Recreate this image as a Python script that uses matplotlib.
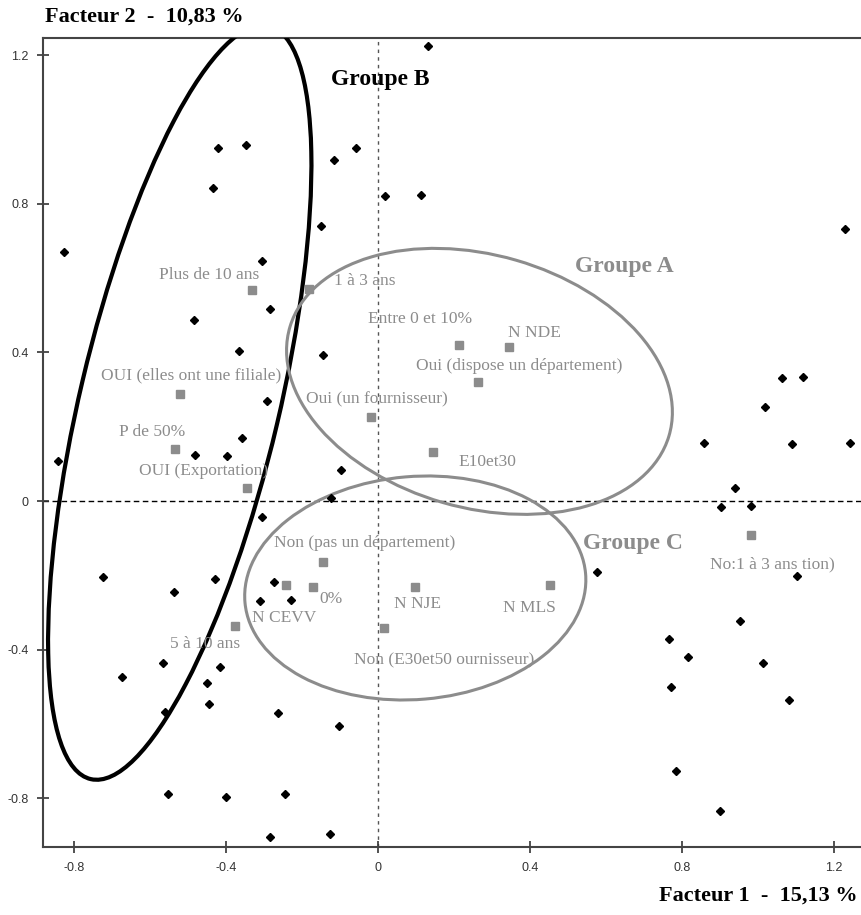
import matplotlib
matplotlib.use('Agg')
import matplotlib.pyplot as plt
from matplotlib.patches import Ellipse

# individuals (black points)
ind_x = [0.131, -0.421, -0.348, -0.435, -0.115, -0.058, 0.018, 0.113, -0.149, -0.827,
         -0.306, -0.285, -0.484, -0.366, -0.144, -0.293, -0.359, -0.482, -0.398, -0.843,
         -0.097, -0.123, -0.306, 1.228, 1.063, 1.120, 1.018, 0.859, 1.089, 1.243,
         0.940, 0.903, 0.982, 0.576, 1.102, 0.953, 0.767, 0.817, 1.013, 0.772,
         1.081, 0.785, 0.901, -0.725, -0.429, -0.537, -0.275, -0.312, -0.230, -0.565,
         -0.673, -0.416, -0.450, -0.445, -0.560, -0.264, -0.102, -0.552, -0.401, -0.246,
         -0.285, -0.126]
ind_y = [1.224, 0.951, 0.959, 0.843, 0.919, 0.951, 0.822, 0.824, 0.741, 0.670,
         0.646, 0.516, 0.486, 0.405, 0.392, 0.268, 0.170, 0.124, 0.122, 0.108,
         0.084, 0.008, -0.043, 0.732, 0.330, 0.335, 0.254, 0.157, 0.154, 0.157,
         0.035, -0.016, -0.014, -0.192, -0.203, -0.322, -0.370, -0.419, -0.435, -0.500,
         -0.535, -0.727, -0.835, -0.205, -0.211, -0.246, -0.219, -0.268, -0.265, -0.435,
         -0.473, -0.446, -0.489, -0.546, -0.568, -0.570, -0.605, -0.789, -0.797, -0.789,
         -0.903, -0.897]

# modalities (grey squares)
mod_labels = ['Plus de 10 ans', '1 à 3 ans', 'Entre 0 et 10%', 'N NDE',
              'Oui (dispose un département)', 'Oui (un fournisseur)', 'E10et30',
              'OUI (elles ont une filiale)', 'P de 50%', 'OUI (Exportation)',
              'Non (pas un département)', 'N CEVV', '0%', '5 à 10 ans', 'N NJE',
              'N MLS', 'Non (E30et50 ournisseur)', 'No:1 à 3 ans tion)']
mod_x = [-0.332, -0.183, 0.212, 0.346, 0.264, -0.018, 0.144, -0.521, -0.534, -0.346,
         -0.144, -0.241, -0.170, -0.377, 0.097, 0.453, 0.016, 0.982]
mod_y = [0.568, 0.570, 0.419, 0.414, 0.319, 0.227, 0.132, 0.289, 0.141, 0.035,
         -0.165, -0.227, -0.232, -0.335, -0.232, -0.227, -0.343, -0.092]
# label offsets in pixels (left edge / vertical centre of text)
lab_dx = [-93, 25, -91, -1, -62, -65, 26, -79, -56, -108, -49, -34, 6, -65, -21, -47, -30, -41]
lab_dy = [15, 8, 26, 14, 16, 17, -10, 18, 17, 17, 19, -33, -12, -18, -17, -23, -32, -29]

grey = '#8c8c8c'
serif = 'Liberation Serif'

fig = plt.figure(figsize=(8.62, 9.15), dpi=100)
ax = fig.add_axes([43 / 862, 1 - 847 / 915, 1 - 43 / 862, (847 - 38) / 915])

ax.axvline(0, color='#555555', lw=1, ls=(0, (2.5, 3)), zorder=1)
ax.axhline(0, color='black', lw=1, ls=(0, (4, 2.5)), zorder=1)

# group ellipses
ax.add_patch(Ellipse((-0.522, 0.265), 2.08, 0.525, angle=77, fill=False,
                     ec='black', lw=3, zorder=3))
ax.add_patch(Ellipse((0.267, 0.322), 1.04, 0.68, angle=-16.5, fill=False,
                     ec=grey, lw=2.2, zorder=3))
ax.add_patch(Ellipse((0.098, -0.234), 0.90, 0.60, angle=5, fill=False,
                     ec=grey, lw=2.2, zorder=3))

ax.plot(ind_x, ind_y, 'D', color='black', ms=4, ls='none', zorder=4)
ax.plot(mod_x, mod_y, 's', color=grey, ms=5.5, ls='none', zorder=4)

for lab, x, y, dx, dy in zip(mod_labels, mod_x, mod_y, lab_dx, lab_dy):
    ax.annotate(lab, (x, y), xytext=(dx, dy), textcoords='offset pixels',
                ha='left', va='center', fontsize=12.5, family=serif,
                color=grey, zorder=5)

ax.text(-0.125, 1.134, 'Groupe B', fontsize=17, fontweight='bold', family=serif,
        color='black', va='center')
ax.text(0.518, 0.630, 'Groupe A', fontsize=17, fontweight='bold', family=serif,
        color=grey, va='center')
ax.text(0.540, -0.115, 'Groupe C', fontsize=17, fontweight='bold', family=serif,
        color=grey, va='center')

ax.set_xlim(-0.882, 1.274)
ax.set_ylim(-0.931, 1.246)
ax.set_xticks([-0.8, -0.4, 0, 0.4, 0.8, 1.2])
ax.set_xticklabels(['-0.8', '-0.4', '0', '0.4', '0.8', '1.2'])
ax.set_yticks([-0.8, -0.4, 0, 0.4, 0.8, 1.2])
ax.set_yticklabels(['-0.8', '-0.4', '0', '0.4', '0.8', '1.2'])
ax.tick_params(direction='inout', length=9, width=1.2, color='#333333',
               labelsize=9, labelcolor='#333333', pad=6)
for lbl in ax.get_xticklabels() + ax.get_yticklabels():
    lbl.set_family('Liberation Sans')
ax.spines['right'].set_visible(False)
for s in ['left', 'bottom', 'top']:
    ax.spines[s].set_linewidth(1.5)
    ax.spines[s].set_color('#444444')

fig.text(45 / 862, 1 - 17 / 915, 'Facteur 2  -  10,83 %', fontsize=16, fontweight='bold',
         family=serif, ha='left', va='center')
fig.text(858 / 862, 1 - 896 / 915, 'Facteur 1  -  15,13 %', fontsize=16, fontweight='bold',
         family=serif, ha='right', va='center')

fig.savefig('out.png', dpi=100)
